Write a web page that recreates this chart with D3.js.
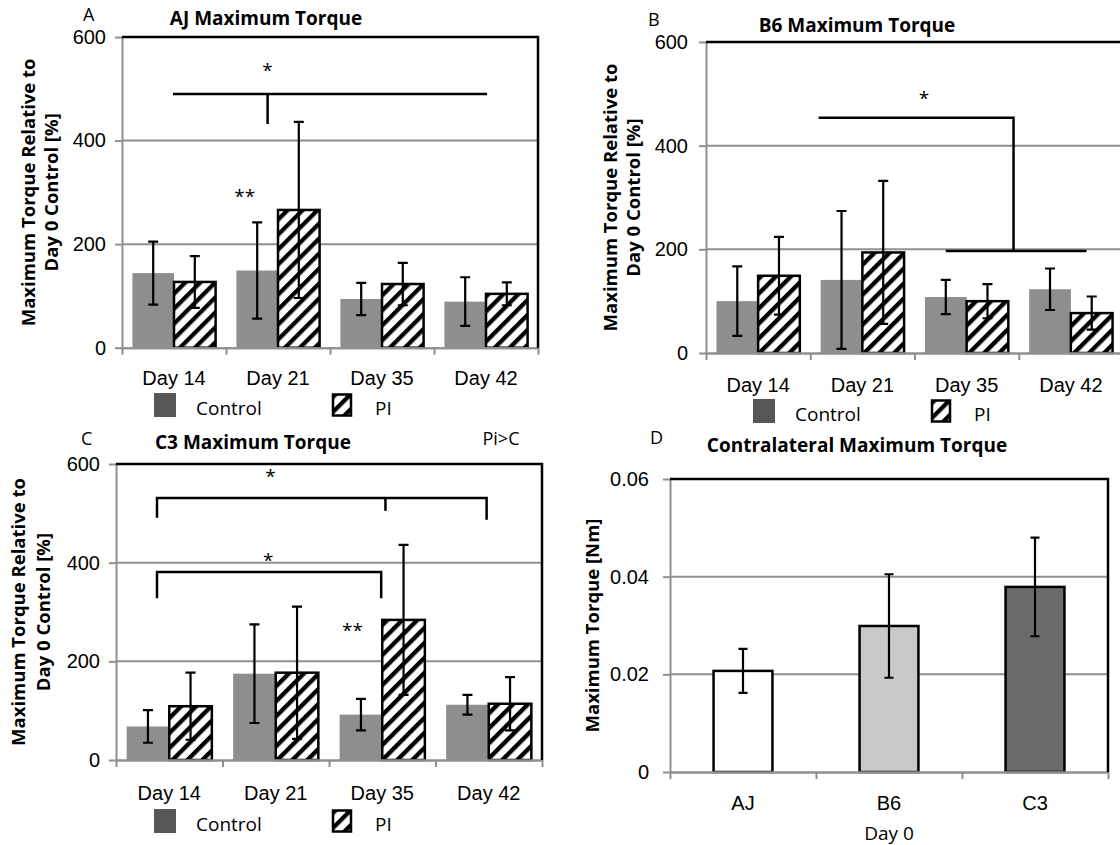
<!DOCTYPE html>
<html>
<head>
<meta charset="utf-8">
<script src="https://cdn.jsdelivr.net/npm/d3@7"></script>
<style>
  body { margin: 0; background: #fff; }
  svg { display: block; font-family: "Open Sans", sans-serif; }
</style>
</head>
<body>
<div id="chart"></div>
<script>
const width = 1120;
const height = 845;

// categories
const days = ['Day 14', 'Day 21', 'Day 35', 'Day 42'];
const groups = ['Control', 'PI'];
const strains = ['AJ', 'B6', 'C3'];
const percentTicks = [0, 200, 400, 600];
const nmTicks = [0, 0.02, 0.04, 0.06];

// AJ (% of day 0 control)
const ajControl = [144, 149, 94, 89];
const ajControlErr = [61, 93, 31, 47];
const ajPI = [127, 266, 123, 104];
const ajPIErr = [50, 170, 41, 22];

// B6
const b6Control = [100, 141, 108, 123];
const b6ControlErr = [67, 133, 33, 40];
const b6PI = [149, 194, 100, 77];
const b6PIErr = [75, 138, 33, 32];

// C3
const c3Control = [68, 175, 92, 112];
const c3ControlErr = [33, 100, 32, 20];
const c3PI = [109, 177, 284, 114];
const c3PIErr = [68, 134, 152, 54];

// contralateral, day 0 [Nm]
const contraValues = [0.0207, 0.0299, 0.0379];
const contraErr = [0.0045, 0.0106, 0.0101];

// significance marks: x in category units (0 = axis, 1 = one day), y in data units
const ajBrackets = [
  [[0.49, 490], [3.51, 490]],
  [[1.40, 490], [1.40, 432]]
];
const ajStars = [{ x: 1.40, y: 543, t: '*' }, { x: 1.18, y: 299, t: '**' }];

const b6Brackets = [
  [[1.08, 454], [2.95, 454], [2.95, 197]],
  [[2.30, 197], [3.65, 197]]
];
const b6Stars = [{ x: 2.09, y: 498, t: '*' }];

const c3Brackets = [
  [[0.385, 491], [0.385, 531], [3.48, 531], [3.48, 487]],
  [[2.53, 531], [2.53, 505]],
  [[0.385, 328], [0.385, 381], [2.49, 381], [2.49, 328]]
];
const c3Stars = [
  { x: 1.45, y: 582, t: '*' },
  { x: 1.43, y: 411, t: '*' },
  { x: 2.22, y: 270, t: '**' }
];

const gridColor = '#8f8f8f';
const controlColor = '#8e8e8e';
const legendControlColor = '#575757';
const strainColors = ['#ffffff', '#c9c9c9', '#6b6b6b'];

const svg = d3.select('#chart')
  .append('svg')
    .attr('width', width)
    .attr('height', height);

svg.append('rect').attr('width', width).attr('height', height).attr('fill', '#fff');

// hatch for PI bars
svg.append('defs').append('pattern')
    .attr('id', 'hatch')
    .attr('patternUnits', 'userSpaceOnUse')
    .attr('width', 10.6)
    .attr('height', 10.6)
    .attr('patternTransform', 'rotate(45)')
  .call(p => {
    p.append('rect').attr('width', 10.6).attr('height', 10.6).attr('fill', '#fff');
    p.append('rect').attr('width', 4.3).attr('height', 10.6).attr('fill', '#000');
  });

function styleAxis(g) {
  g.select('.domain').attr('stroke', gridColor).attr('stroke-width', 2);
  g.selectAll('.tick line').attr('stroke', gridColor).attr('stroke-width', 2);
  g.selectAll('.tick text').attr('fill', '#000').style('font-size', '20px');
}

function drawGrid(g, cfg, y, ticks) {
  g.append('g').selectAll('line')
    .data(ticks.slice(1, -1))
    .join('line')
      .attr('x1', cfg.x0).attr('x2', cfg.x1)
      .attr('y1', d => y(d)).attr('y2', d => y(d))
      .attr('stroke', gridColor).attr('stroke-width', 2);
}

function drawAxes(g, cfg, x, xEdges, y, ticks, fmt) {
  g.append('g')
    .attr('transform', `translate(${cfg.x0},0)`)
    .call(d3.axisLeft(y).tickValues(ticks).tickFormat(fmt).tickSize(7).tickSizeOuter(0).tickPadding(cfg.tickPad))
    .call(styleAxis);

  g.append('g')
    .attr('transform', `translate(0,${y(0)})`)
    .call(d3.axisBottom(x).tickSize(0).tickSizeOuter(0).tickPadding(cfg.labelPad))
    .call(styleAxis);

  g.append('g')
    .attr('transform', `translate(0,${y(0)})`)
    .call(d3.axisBottom(xEdges).tickValues(d3.range(0, xEdges.domain()[1] + 1)).tickFormat('').tickSize(7).tickSizeOuter(0))
    .call(styleAxis);

  // black top and right border
  g.append('path')
    .attr('d', `M${cfg.x0},${y(ticks[ticks.length - 1])}H${cfg.x1}V${y(0)}`)
    .attr('fill', 'none').attr('stroke', '#000').attr('stroke-width', 2.5);
}

function drawErrors(g, data, cx, y, cap) {
  g.append('g').attr('stroke', '#000').attr('stroke-width', 2.2)
    .selectAll('path')
    .data(data)
    .join('path')
      .attr('fill', 'none')
      .attr('d', d => {
        const x = cx(d), lo = y(d.v - d.e), hi = y(d.v + d.e);
        return `M${x - cap / 2},${hi}H${x + cap / 2}M${x},${hi}V${lo}M${x - cap / 2},${lo}H${x + cap / 2}`;
      });
}

function drawTitles(g, cfg) {
  g.append('text').attr('x', cfg.letter[0]).attr('y', cfg.letter[1])
    .style('font-size', '18px').text(cfg.letterText);
  g.append('text').attr('x', cfg.title[0]).attr('y', cfg.title[1])
    .attr('text-anchor', 'middle').style('font-size', '19px').style('font-weight', 700)
    .text(cfg.titleText);
  const cy = (cfg.yTop + cfg.yZero) / 2;
  cfg.yLabel.forEach((line, i) => {
    g.append('text')
      .attr('transform', `translate(${cfg.x0 + cfg.yLabelDx[i]},${cy}) rotate(-90)`)
      .attr('text-anchor', 'middle')
      .style('font-size', '18.5px').style('font-weight', 700)
      .text(line);
  });
}

function drawTorquePanel(cfg, control, controlErr, pi, piErr, brackets, stars) {
  const g = svg.append('g');
  const y = d3.scaleLinear().domain([0, 600]).range([cfg.yZero, cfg.yTop]);
  const x = d3.scaleBand().domain(days).range([cfg.x0, cfg.x1]);
  const xs = d3.scaleBand().domain(groups).range([0, x.bandwidth()]).paddingInner(0).paddingOuter(0.25);
  const xc = d3.scaleLinear().domain([0, days.length]).range([cfg.x0, cfg.x1]);

  const rows = days.map((day, i) => [
    { day, group: 'Control', v: control[i], e: controlErr[i] },
    { day, group: 'PI', v: pi[i], e: piErr[i] }
  ]).flat();

  drawGrid(g, cfg, y, percentTicks);

  g.append('g').selectAll('rect')
    .data(rows)
    .join('rect')
      .attr('x', d => x(d.day) + xs(d.group))
      .attr('y', d => y(d.v))
      .attr('width', xs.bandwidth())
      .attr('height', d => y(0) - y(d.v))
      .attr('fill', d => d.group === 'PI' ? 'url(#hatch)' : controlColor)
      .attr('stroke', d => d.group === 'PI' ? '#000' : 'none')
      .attr('stroke-width', 2.5);

  drawErrors(g, rows, d => x(d.day) + xs(d.group) + xs.bandwidth() / 2, y, 10);
  drawAxes(g, cfg, x, xc, y, percentTicks, d3.format('d'));

  // significance brackets
  const line = d3.line().x(d => xc(d[0])).y(d => y(d[1]));
  g.append('g').selectAll('path')
    .data(brackets)
    .join('path')
      .attr('d', line)
      .attr('fill', 'none').attr('stroke', '#000').attr('stroke-width', 2.5);
  g.append('g').selectAll('text')
    .data(stars)
    .join('text')
      .attr('x', d => xc(d.x)).attr('y', d => y(d.y) + 10)
      .attr('text-anchor', 'middle').style('font-size', '19px')
      .text(d => d.t);

  // legend
  const lg = g.append('g').attr('transform', `translate(${cfg.legend[0]},${cfg.legend[1]})`);
  lg.append('rect').attr('width', 22).attr('height', 24).attr('fill', legendControlColor);
  lg.append('text').attr('x', 42).attr('y', 22).style('font-size', '19px').text(groups[0]);
  lg.append('rect').attr('x', 179).attr('y', 1.5).attr('width', 18).attr('height', 21)
    .attr('fill', 'url(#hatch)').attr('stroke', '#000').attr('stroke-width', 2.5);
  lg.append('text').attr('x', 221).attr('y', 22).style('font-size', '19px').text(groups[1]);

  drawTitles(g, cfg);
  return g;
}

const yLabelLines = ['Maximum Torque Relative to', 'Day 0 Control [%]'];

drawTorquePanel({
  x0: 122, x1: 538, yTop: 37, yZero: 347.7, labelPad: 23, tickPad: 9,
  legend: [154, 393], letter: [83, 21], letterText: 'A',
  title: [266, 25], titleText: 'AJ Maximum Torque',
  yLabel: yLabelLines, yLabelDx: [-87, -64]
}, ajControl, ajControlErr, ajPI, ajPIErr, ajBrackets, ajStars);

drawTorquePanel({
  x0: 706, x1: 1123, yTop: 42, yZero: 353, labelPad: 25, tickPad: 11,
  legend: [753, 399], letter: [648, 26], letterText: 'B',
  title: [857, 32], titleText: 'B6 Maximum Torque',
  yLabel: yLabelLines, yLabelDx: [-89, -66]
}, b6Control, b6ControlErr, b6PI, b6PIErr, b6Brackets, b6Stars);

const gC = drawTorquePanel({
  x0: 116, x1: 542, yTop: 464, yZero: 760, labelPad: 26, tickPad: 9,
  legend: [154, 809], letter: [81, 445], letterText: 'C',
  title: [253, 449], titleText: 'C3 Maximum Torque',
  yLabel: yLabelLines, yLabelDx: [-91, -66]
}, c3Control, c3ControlErr, c3PI, c3PIErr, c3Brackets, c3Stars);

gC.append('text').attr('x', 501).attr('y', 445)
  .attr('text-anchor', 'middle').style('font-size', '18px').text('Pi>C');

// panel D: contralateral limb at day 0
(function () {
  const cfg = {
    x0: 670, x1: 1108, yTop: 479, yZero: 772, labelPad: 24, tickPad: 14,
    letter: [650, 444], letterText: 'D',
    title: [857, 452], titleText: 'Contralateral Maximum Torque',
    yLabel: ['Maximum Torque [Nm]'], yLabelDx: [-71]
  };
  const g = svg.append('g');
  const y = d3.scaleLinear().domain([0, 0.06]).range([cfg.yZero, cfg.yTop]);
  const x = d3.scaleBand().domain(strains).range([cfg.x0, cfg.x1]);
  const xs = d3.scaleBand().domain(['bar']).range([0, x.bandwidth()]).paddingInner(0).paddingOuter(0.74);
  const xc = d3.scaleLinear().domain([0, strains.length]).range([cfg.x0, cfg.x1]);
  const fmt = d => d === 0 ? '0' : d3.format('.2f')(d);

  const rows = strains.map((s, i) => ({ s, v: contraValues[i], e: contraErr[i], c: strainColors[i] }));

  drawGrid(g, cfg, y, nmTicks);

  g.append('g').selectAll('rect')
    .data(rows)
    .join('rect')
      .attr('x', d => x(d.s) + xs('bar'))
      .attr('y', d => y(d.v))
      .attr('width', xs.bandwidth())
      .attr('height', d => y(0) - y(d.v))
      .attr('fill', d => d.c)
      .attr('stroke', '#000').attr('stroke-width', 2.5);

  drawErrors(g, rows, d => x(d.s) + x.bandwidth() / 2, y, 9);
  drawAxes(g, cfg, x, xc, y, nmTicks, fmt);

  g.append('text')
    .attr('x', (cfg.x0 + cfg.x1) / 2).attr('y', 840)
    .attr('text-anchor', 'middle').style('font-size', '19px')
    .text('Day 0');

  drawTitles(g, cfg);
})();
</script>
</body>
</html>
